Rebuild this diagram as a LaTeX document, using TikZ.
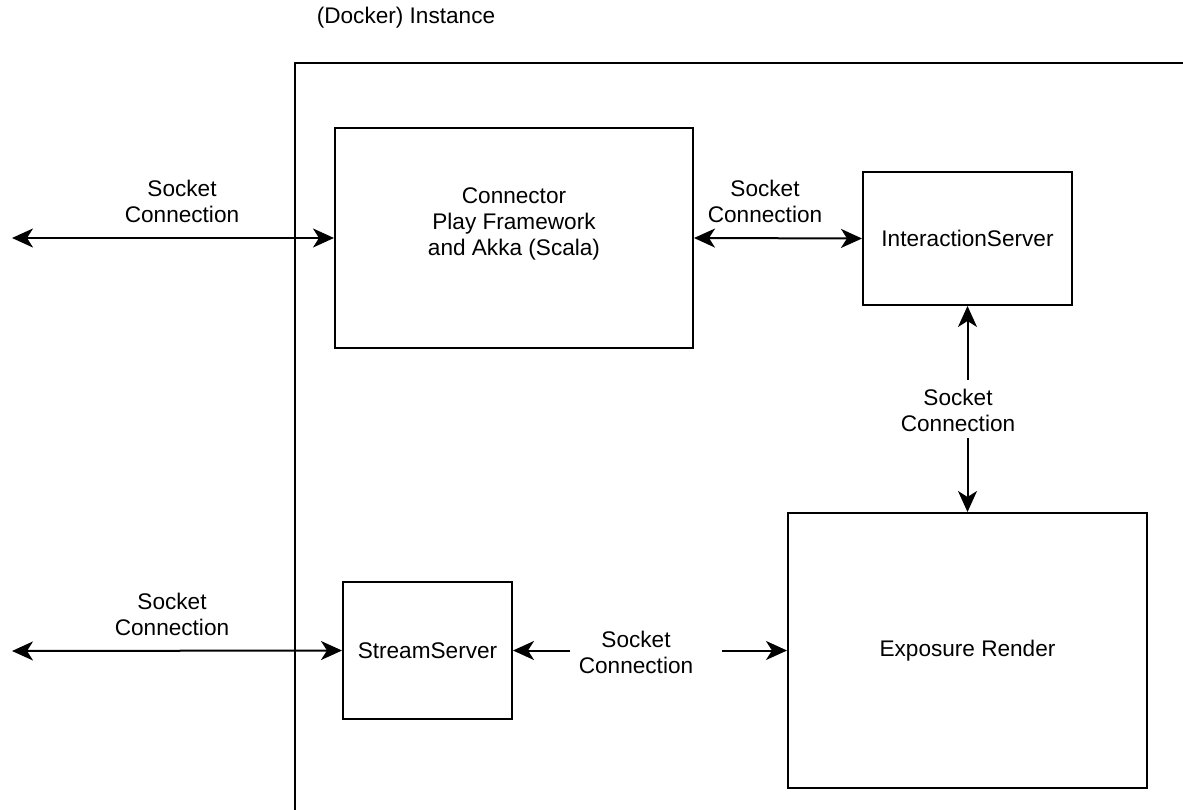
\documentclass[tikz,border=0pt]{standalone}
\usepackage{fontspec}
\setmainfont{Liberation Sans}
\usetikzlibrary{arrows.meta}
\begin{document}
\begin{tikzpicture}[x=1pt,y=-1pt,
  every node/.style={font=\fontsize{22.6}{26}\selectfont, align=center, inner sep=0pt},
  box/.style={draw, line width=2pt, fill=white},
  tip/.tip={Stealth[length=21pt,width=19pt,inset=6pt]},
  link/.style={line width=2pt, tip-tip},
  halflink/.style={line width=2pt, -tip},
  plain/.style={line width=2pt}]
\useasboundingbox (0,0) rectangle (1183,810);
\fill[white] (0,0) rectangle (1183,810);

% instance frame (runs off the right and bottom edges)
\draw[plain] (295,810) -- (295,63) -- (1183,63);
\node (title) at (406,18) {(Docker) Instance};

% components
\node[box, minimum width=358pt, minimum height=220pt] (conn) at (514,238) {};
\node (conntext) at (514,224) {Connector\\Play Framework\\and Akka (Scala)};
\node[box, minimum width=209pt, minimum height=133pt] (inter) at (967.5,238.5) {InteractionServer};
\node[box, minimum width=359pt, minimum height=275pt] (expo) at (967.5,650.5) {Exposure Render};
\node[box, minimum width=169pt, minimum height=137pt] (stream) at (427.5,650.5) {StreamServer};

% external socket ends
\coordinate (extA) at (12,238);
\coordinate (extB) at (12,651);

% connections
\draw[link] (extA) -- (conn.west);
\node (lblA) at (182,201) {Socket\\Connection};

\draw[link] (extB) -- (stream.west);
\node (lblB) at (172,614) {Socket\\Connection};

\draw[link] (conn.east) -- (inter.west);
\node (lblC) at (765,201) {Socket\\Connection};

\node (lblD) at (958,410) {Socket\\Connection};
\coordinate (dTop) at (inter.south |- 0,380);
\coordinate (dBot) at (expo.north |- 0,438);
\draw[halflink] (dTop) -- (inter.south);
\draw[halflink] (dBot) -- (expo.north);

\node (lblE) at (636,652) {Socket\\Connection};
\coordinate (eLeft) at (570,0 |- stream.east);
\coordinate (eRight) at (722,0 |- expo.west);
\draw[halflink] (eLeft) -- (stream.east);
\draw[halflink] (eRight) -- (expo.west);
\end{tikzpicture}
\end{document}
